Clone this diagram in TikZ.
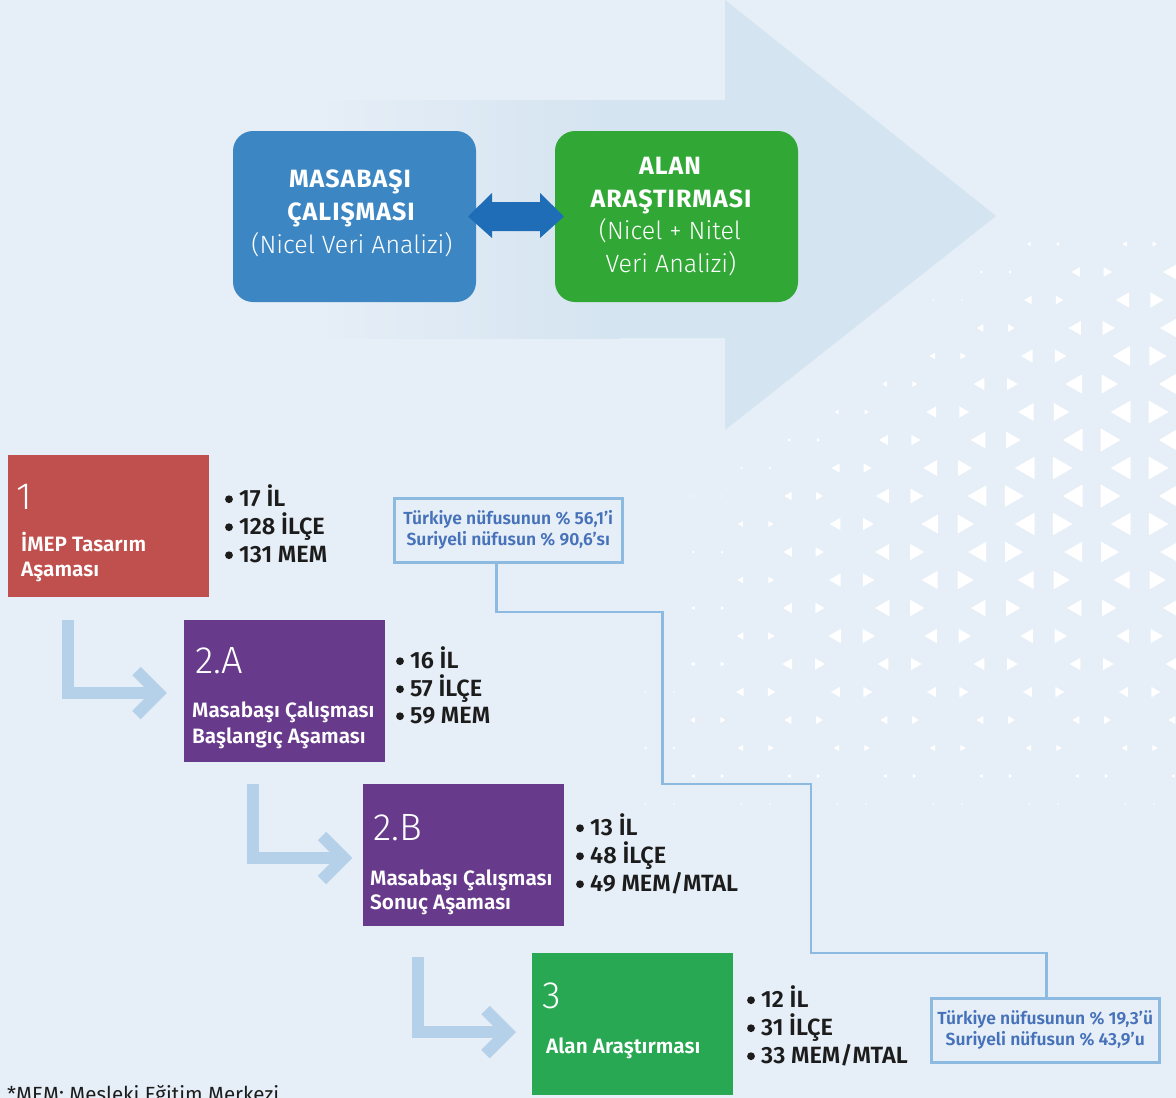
\documentclass[tikz,border=0pt]{standalone}
\usepackage{fontspec}
\setmainfont{Fira Sans}
\IfFontExistsTF{Fira Sans Light}{\newfontfamily\lightf{Fira Sans Light}}{\newfontfamily\lightf{Fira Sans}}
\IfFontExistsTF{Fira Sans SemiBold}{\newfontfamily\semib{Fira Sans SemiBold}}{\newcommand\semib{\bfseries}}
\newfontfamily\boldsp{Fira Sans}[LetterSpace=4]
\usetikzlibrary{calc}
\definecolor{bgc}{HTML}{E6EEF7}
\definecolor{arrc}{HTML}{D4E4F0}
\definecolor{masac}{HTML}{3C87C3}
\definecolor{alanc}{HTML}{31A836}
\definecolor{dblc}{HTML}{1F6DB6}
\definecolor{redc}{HTML}{C0504D}
\definecolor{purc}{HTML}{683A8B}
\definecolor{grnc}{HTML}{29A853}
\definecolor{lc}{HTML}{B5D1E9}
\definecolor{linec}{HTML}{8CBAE0}
\definecolor{infot}{HTML}{4672BA}
\definecolor{txtc}{HTML}{1C1C1C}
\tikzset{
  topbox/.style={anchor=north west, minimum width=243, minimum height=171, rounded corners=20, inner sep=0, outer sep=0},
  stagebox/.style={anchor=north west, minimum width=201, minimum height=142, inner sep=0, outer sep=0},
  toptitle/.style={anchor=base, inner sep=0, text=white, font=\boldsp\bfseries\fontsize{25}{30}\selectfont},
  topsub/.style={anchor=base, inner sep=0, text=white, font=\lightf\fontsize{25}{30}\selectfont},
  stnum/.style={anchor=base west, inner sep=0, text=white, font=\lightf\fontsize{38}{40}\selectfont},
  stlbl/.style={anchor=base west, inner sep=0, text=white, font=\semib\fontsize{20.8}{24}\selectfont},
  bul/.style={anchor=base west, inner sep=0, text=txtc, font=\semib\fontsize{23.5}{26}\selectfont},
  infobox/.style={draw=linec, line width=2.5, fill=bgc, minimum width=228, minimum height=64, anchor=north west, inner sep=0, align=center, text=infot, font=\semib\fontsize{17.5}{21}\selectfont},
  larrow/.style={draw=lc, line width=12},
  lhead/.style={draw=lc, line width=12, line join=miter},
  conn/.style={draw=linec, line width=2.5},
  bdot/.style={fill=txtc},
}
\newcommand\bulletdot[1]{\fill[bdot] ([xshift=-10pt,yshift=6.8pt]#1.base west) circle (3.9pt);}
\begin{document}
\begin{tikzpicture}[x=1pt,y=-1pt]
\useasboundingbox (0,0) rectangle (1176,1098);
\clip (0,0) rectangle (1176,1098);
\fill[bgc] (0,0) rectangle (1176,1098);
% triangle pattern
\foreach \k in {0,...,21}{
  \foreach \n in {-4,...,2}{
    \pgfmathsetmacro{\tyy}{244+28*\k}
    \pgfmathsetmacro{\tmx}{947.7+48*mod(\k,2)+96*\n}
    \pgfmathsetmacro{\txo}{680+1.2*max(0,500-\tyy)-0.25*max(0,\tyy-500)}
    \pgfmathsetmacro{\tcap}{min(1,max(0,1-(\tyy-520)/310),max(0,(\tyy-236)/36))}
    \pgfmathsetmacro{\tsz}{min(max((\tmx-\txo)/330,0),\tcap)}
    \ifdim\tsz pt>0.06pt
      \fill[white] ({\tmx-14+5*\tsz},{\tyy-11.5*\tsz}) -- ({\tmx-14-15*\tsz},\tyy) -- ({\tmx-14+5*\tsz},{\tyy+11.5*\tsz}) -- cycle;
      \fill[white] ({\tmx+14-5*\tsz},{\tyy-11.5*\tsz}) -- ({\tmx+14+15*\tsz},\tyy) -- ({\tmx+14-5*\tsz},{\tyy+11.5*\tsz}) -- cycle;
    \fi
  }
}
% big arrow
\shade[left color=bgc, right color=arrc] (320,100) rectangle (620,338);
\fill[arrc] (619,100) -- (725,100) -- (725,0) -- (996,216) -- (725,430) -- (725,338) -- (619,338) -- cycle;
% top boxes
\node[topbox, fill=masac] (masa) at (233,131) {};
\node[topbox, fill=alanc] (alan) at (555,131) {};
\fill[dblc] ([xshift=-8]masa.east) -- ++(24,-23.5) -- ++(0,9) -- ++(48,0) -- ++(0,-9) -- ++(24,23.5) -- ++(-24,21.5) -- ++(0,-7) -- ++(-48,0) -- ++(0,7) -- cycle;
\node[toptitle] (masa1) at (350,187) {MASABAŞI};
\node[toptitle] (masa2) at (351,220) {ÇALIŞMASI};
\node[topsub] (masa3) at (352,253) {(Nicel Veri Analizi)};
\node[toptitle] (alan1) at (670,174) {ALAN};
\node[toptitle] (alan2) at (671,207) {ARAŞTIRMASI};
\node[topsub] (alan3) at (670,239) {(Nicel + Nitel};
\node[topsub] (alan4) at (671,272) {Veri Analizi)};
% stages
\node[stagebox, fill=redc] (s1) at (8,455) {};
\node[stnum] (s1n) at (16,509) {1};
\node[stlbl] (s1a) at (21,551) {İMEP Tasarım};
\node[stlbl] (s1b) at (21,576) {Aşaması};
\node[bul] (b1a) at (239,506) {17 İL};
\node[bul] (b1b) at (239,534) {128 İLÇE};
\node[bul] (b1c) at (239,562) {131 MEM};

\node[stagebox, fill=purc] (s2a) at (184,620) {};
\node[stnum] (s2an) at (195,673) {2.A};
\node[stlbl] (s2a1) at (192,717) {Masabaşı Çalışması};
\node[stlbl] (s2a2) at (192,743) {Başlangıç Aşaması};
\node[bul] (b2a) at (410,668) {16 İL};
\node[bul] (b2b) at (410,696) {57 İLÇE};
\node[bul] (b2c) at (410,723) {59 MEM};

\node[stagebox, fill=purc] (s2b) at (363,784) {};
\node[stnum] (s2bn) at (373,840) {2.B};
\node[stlbl] (s2b1) at (370,885) {Masabaşı Çalışması};
\node[stlbl] (s2b2) at (370,909) {Sonuç Aşaması};
\node[bul] (b3a) at (590,835) {13 İL};
\node[bul] (b3b) at (590,863) {48 İLÇE};
\node[bul] (b3c) at (590,891) {49 MEM/MTAL};

\node[stagebox, fill=grnc] (s3) at (532,953) {};
\node[stnum] (s3n) at (542,1008) {3};
\node[stlbl] (s3a) at (546,1053) {Alan Araştırması};
\node[bul] (b4a) at (761,1007) {12 İL};
\node[bul] (b4b) at (761,1035) {31 İLÇE};
\node[bul] (b4c) at (761,1063) {33 MEM/MTAL};
\foreach \b in {b1a,b1b,b1c,b2a,b2b,b2c,b3a,b3b,b3c,b4a,b4b,b4c}{\bulletdot{\b}}
% L arrows
\coordinate (l1s) at (68,620);  \coordinate (l1t) at (158.5,693);
\coordinate (l2s) at (253,784); \coordinate (l2t) at (344,858);
\coordinate (l3s) at (417.5,957); \coordinate (l3t) at (507.5,1032);
\foreach \a/\b in {l1s/l1t, l2s/l2t, l3s/l3t}{
  \draw[larrow] (\a) |- (\b);
  \draw[lhead] ($(\b)+(-22,-22)$) -- (\b) -- ($(\b)+(-22,22)$);
}
% info connector
\coordinate (c0) at (496.5,561);
\coordinate (c1) at (662.5,612);
\coordinate (c2) at (811,784);
\coordinate (c3) at (1046.5,953);
\node[infobox] (infoB) at (930,997) {Türkiye nüfusunun \% 19,3’ü\\Suriyeli nüfusun \% 43,9’u};
\draw[conn] (c0) |- (c1) |- (c2) |- (c3) -- (c3 |- infoB.north);
\node[infobox] (infoA) at (393,497) {Türkiye nüfusunun \% 56,1’i\\Suriyeli nüfusun \% 90,6’sı};
% footnote
\node[anchor=base west, inner sep=0, text=txtc, font=\fontsize{20.5}{22}\selectfont] (foot) at (7,1101) {*MEM: Mesleki Eğitim Merkezi};
\end{tikzpicture}
\end{document}
